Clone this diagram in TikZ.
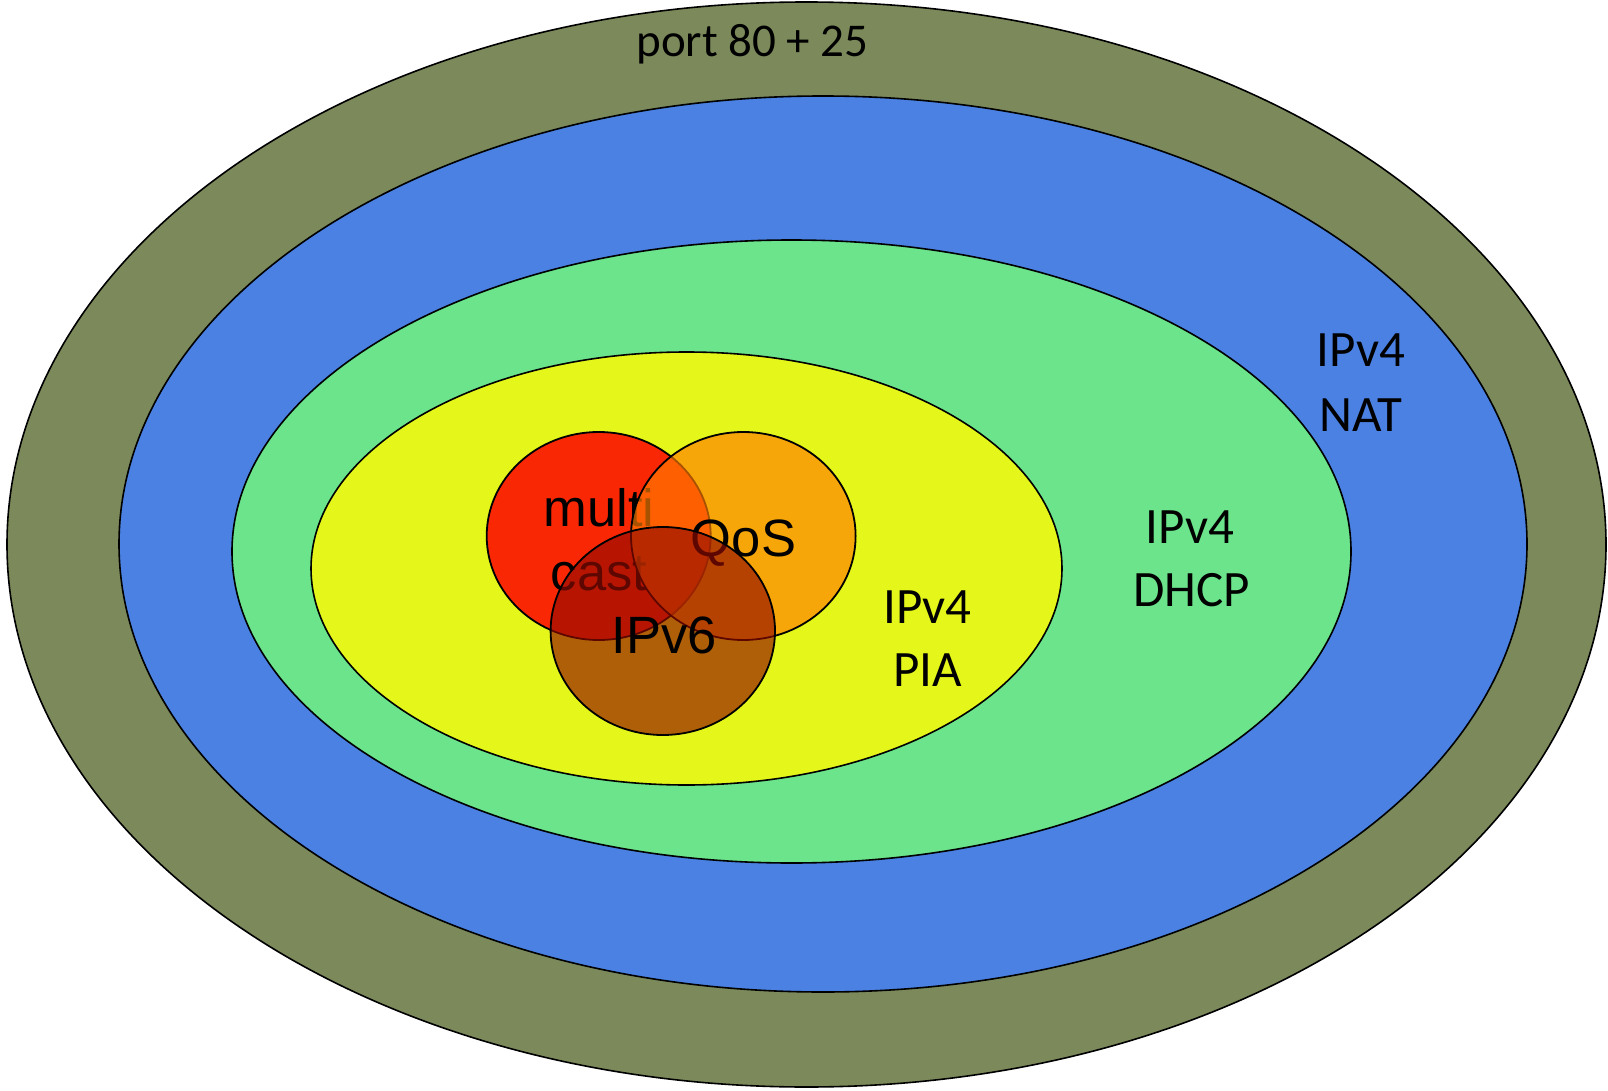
\documentclass[tikz,border=0pt]{standalone}
\usepackage{fontspec}
\setmainfont{Carlito}
\newfontfamily\arialfont{Liberation Sans}
\definecolor{olivering}{RGB}{124,138,91}
\definecolor{bluering}{RGB}{74,129,226}
\definecolor{greenring}{RGB}{107,228,139}
\definecolor{yellowring}{RGB}{229,247,26}
\definecolor{mcred}{RGB}{255,0,0}
\definecolor{qosorange}{RGB}{255,125,0}
\definecolor{v6brown}{RGB}{147,12,0}
\tikzset{
  ring/.style={draw=black, line width=1.6pt},
  blob/.style={draw=black, line width=1.8pt},
  lbl/.style={anchor=base, inner sep=0pt, font=\fontsize{51}{61}\selectfont},
  plbl/.style={anchor=base, inner sep=0pt, font=\arialfont\fontsize{52.5}{62}\selectfont},
}
\begin{document}
\begin{tikzpicture}[x=1pt, y=-1pt]
  \useasboundingbox[fill=white] (0,0) rectangle (1608,1091);

  % nested zones
  \filldraw[ring, fill=olivering]  (806.5,544.5) ellipse [x radius=799.5, y radius=542.5];
  \filldraw[ring, fill=bluering]   (823,544)     ellipse [x radius=704,   y radius=448];
  \filldraw[ring, fill=greenring]  (791.5,551.5) ellipse [x radius=559.5, y radius=311.5];
  \filldraw[ring, fill=yellowring] (686.5,568.5) ellipse [x radius=375.5, y radius=216.5];

  % zone labels
  \node[lbl, font=\fontsize{47}{56}\selectfont] (port) at (752.5,56.7) {port 80 + 25};
  \node[lbl] (nat1)  at (1361,366.7) {IPv4};
  \node[lbl] (nat2)  at (1361,431.7) {NAT};
  \node[lbl] (dhcp1) at (1190,543.3) {IPv4};
  \node[lbl] (dhcp2) at (1191.5,606.7) {DHCP};
  \node[lbl] (pia1)  at (927.5,623.3) {IPv4};
  \node[lbl] (pia2)  at (927.5,686.7) {PIA};

  % overlapping features
  \filldraw[blob, fill=mcred, fill opacity=0.84] (598.7,536) ellipse [x radius=112, y radius=104];
  \node[plbl] (multi) at (599,526.7) {multi};
  \node[plbl] (cast)  at (599,590)   {cast};

  \filldraw[blob, fill=qosorange, fill opacity=0.66] (743.3,536) ellipse [x radius=112.3, y radius=104];
  \node[plbl] (qos) at (743.5,556.7) {QoS};

  \filldraw[blob, fill=v6brown, fill opacity=0.643] (662.8,631) ellipse [x radius=112.2, y radius=104];
  \node[plbl] (ipv6) at (664,653.3) {IPv6};
\end{tikzpicture}
\end{document}
